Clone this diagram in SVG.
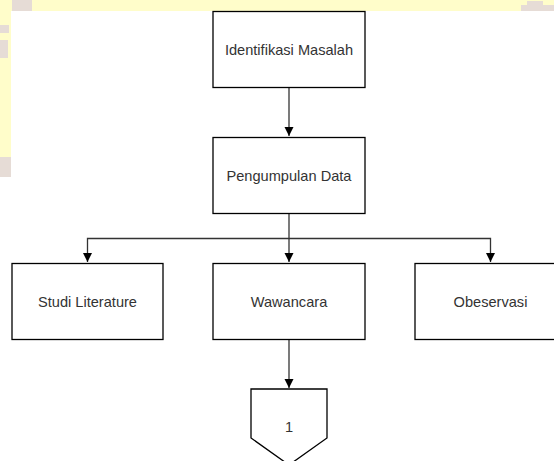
<svg xmlns="http://www.w3.org/2000/svg" width="554" height="461" viewBox="0 0 554 461">
<style>
.box{fill:#fff;stroke:#000;stroke-width:1.3}
.lbl{font-family:"Liberation Sans",Arial,sans-serif;font-size:14.6px;fill:#333;text-anchor:middle;dominant-baseline:central}
.edge{fill:none;stroke:#333;stroke-width:1.3}
.yel{fill:#FFFDCA}
.bei{fill:#E6DCD6}
</style>
<defs>
<marker id="arr" markerWidth="10" markerHeight="10" refX="9" refY="5" orient="auto" markerUnits="userSpaceOnUse">
<path d="M0,0.5 L9,5 L0,9.5 Z" fill="#000"/>
</marker>
</defs>
<rect width="554" height="461" fill="#fff"/>
<g id="background">
<rect class="yel" x="0" y="0" width="554" height="11"/>
<rect class="yel" x="0" y="0" width="11" height="160"/>
<rect class="bei" x="0" y="157" width="11" height="20"/>
<rect class="bei" x="12" y="0" width="20" height="11"/>
<rect class="bei" x="0" y="25" width="9" height="8"/>
<rect class="bei" x="0" y="40" width="8" height="18"/>
<rect class="bei" x="521" y="5" width="33" height="6"/>
<rect class="bei" x="527" y="1" width="16" height="5"/>
</g>
<g id="connectors">
<path class="edge" d="M289,88 V136" marker-end="url(#arr)"/>
<path class="edge" d="M289,213 V262" marker-end="url(#arr)"/>
<path class="edge" d="M289,238.5 H87.5 V262" marker-end="url(#arr)"/>
<path class="edge" d="M289,238.5 H490.5 V262" marker-end="url(#arr)"/>
<path class="edge" d="M289,340 V388" marker-end="url(#arr)"/>
</g>
<g id="node-identifikasi">
<rect class="box" x="213" y="11.5" width="152" height="76"/>
<text class="lbl" x="289" y="50">Identifikasi Masalah</text>
</g>
<g id="node-pengumpulan">
<rect class="box" x="213" y="137.5" width="152" height="76"/>
<text class="lbl" x="289" y="176">Pengumpulan Data</text>
</g>
<g id="node-studi">
<rect class="box" x="12" y="263.5" width="151" height="76"/>
<text class="lbl" x="87.5" y="302">Studi Literature</text>
</g>
<g id="node-wawancara">
<rect class="box" x="213" y="263.5" width="152" height="76"/>
<text class="lbl" x="289" y="302">Wawancara</text>
</g>
<g id="node-obeservasi">
<rect class="box" x="415" y="263.5" width="152" height="76"/>
<text class="lbl" x="490.5" y="302">Obeservasi</text>
</g>
<g id="node-1">
<polygon class="box" points="251,389 327,389 327,438 289,465 251,438"/>
<text class="lbl" x="289" y="427">1</text>
</g>
</svg>
